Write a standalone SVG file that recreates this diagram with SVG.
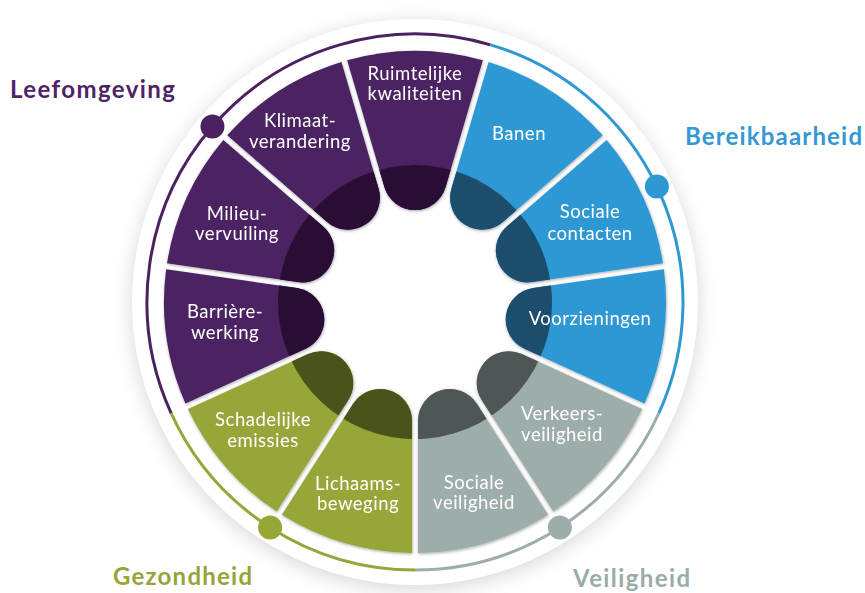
<svg xmlns="http://www.w3.org/2000/svg" xmlns:xlink="http://www.w3.org/1999/xlink" width="865" height="593" viewBox="0 0 865 593">
<style>
.lbl{font-family:Lato,"Open Sans","Liberation Sans",sans-serif;font-size:18.5px;font-weight:400;fill:#ffffff;text-anchor:middle;letter-spacing:0.5px}
.cat{font-family:Lato,"Open Sans","Liberation Sans",sans-serif;font-size:24px;font-weight:700}
.pur{fill:#4b2162}.purd{fill:#2a1036}
.blu{fill:#2f98d4}.blud{fill:#1a4d6c}
.gry{fill:#9dadab}.gryd{fill:#4f5756}
.olv{fill:#98a537}.olvd{fill:#4b531b}
.ring{fill:none;stroke-width:3}
</style>
<defs>
<path id="seg" d="M 30.6,-114.9 L 67.83,-241.66 A 251 251 0 0 0 -67.83,-241.66 L -30.6,-114.9 A 31.9 31.9 0 0 0 30.6,-114.9 Z"/>
<clipPath id="inner" clipPathUnits="userSpaceOnUse"><circle cx="0" cy="0" r="137"/></clipPath>
<filter id="discShadow" x="-20%" y="-20%" width="140%" height="140%">
<feGaussianBlur stdDeviation="10"/>
</filter>
<filter id="segShadow" x="-10%" y="-10%" width="120%" height="120%">
<feDropShadow dx="0.5" dy="1" stdDeviation="1.5" flood-color="#000" flood-opacity="0.35"/>
</filter>
</defs>
<rect width="865" height="593" fill="#ffffff"/>
<g id="disc">
<circle cx="415" cy="306" r="283" fill="#000" opacity="0.16" filter="url(#discShadow)"/>
<circle cx="415" cy="302" r="283" fill="#ffffff"/>
</g>
<g id="connectors">
<path class="ring" stroke="#4b2162" d="M 171.22 413.33 A 268 268 0 0 1 490.50 44.86"/>
<path class="ring" stroke="#2f98d4" d="M 490.50 44.86 A 268 268 0 0 1 658.78 413.33"/>
<path class="ring" stroke="#9dadab" d="M 658.78 413.33 A 268 268 0 0 1 415 570"/>
<path class="ring" stroke="#98a537" d="M 415 570 A 268 268 0 0 1 171.22 413.33"/>
<circle cx="212.46" cy="126.5" r="12" fill="#4b2162"/>
<circle cx="656.9" cy="186.6" r="12" fill="#2f98d4"/>
<circle cx="559.9" cy="527.5" r="12" fill="#9dadab"/>
<circle cx="270.1" cy="527.5" r="12" fill="#98a537"/>
</g>
<g id="segments" filter="url(#segShadow)">
<g id="node-ruimtelijke">
<g transform="translate(415,302) rotate(0)"><use xlink:href="#seg" class="pur"/><use xlink:href="#seg" class="purd" clip-path="url(#inner)"/></g>
<text class="lbl" x="415" y="80">Ruimtelijke</text><text class="lbl" x="415" y="100">kwaliteiten</text>
</g>
<g id="node-banen">
<g transform="translate(415,302) rotate(32.727)"><use xlink:href="#seg" class="blu"/><use xlink:href="#seg" class="blud" clip-path="url(#inner)"/></g>
<text class="lbl" x="519" y="140">Banen</text>
</g>
<g id="node-sociale-contacten">
<g transform="translate(415,302) rotate(65.455)"><use xlink:href="#seg" class="blu"/><use xlink:href="#seg" class="blud" clip-path="url(#inner)"/></g>
<text class="lbl" x="590" y="218">Sociale</text><text class="lbl" x="590" y="240">contacten</text>
</g>
<g id="node-voorzieningen">
<g transform="translate(415,302) rotate(98.182)"><use xlink:href="#seg" class="blu"/><use xlink:href="#seg" class="blud" clip-path="url(#inner)"/></g>
<text class="lbl" x="590" y="325">Voorzieningen</text>
</g>
<g id="node-verkeersveiligheid">
<g transform="translate(415,302) rotate(130.909)"><use xlink:href="#seg" class="gry"/><use xlink:href="#seg" class="gryd" clip-path="url(#inner)"/></g>
<text class="lbl" x="562" y="420">Verkeers-</text><text class="lbl" x="562" y="441">veiligheid</text>
</g>
<g id="node-sociale-veiligheid">
<g transform="translate(415,302) rotate(163.636)"><use xlink:href="#seg" class="gry"/><use xlink:href="#seg" class="gryd" clip-path="url(#inner)"/></g>
<text class="lbl" x="474" y="489">Sociale</text><text class="lbl" x="474" y="509">veiligheid</text>
</g>
<g id="node-lichaamsbeweging">
<g transform="translate(415,302) rotate(196.364)"><use xlink:href="#seg" class="olv"/><use xlink:href="#seg" class="olvd" clip-path="url(#inner)"/></g>
<text class="lbl" x="358" y="490">Lichaams-</text><text class="lbl" x="358" y="510">beweging</text>
</g>
<g id="node-schadelijke-emissies">
<g transform="translate(415,302) rotate(229.091)"><use xlink:href="#seg" class="olv"/><use xlink:href="#seg" class="olvd" clip-path="url(#inner)"/></g>
<text class="lbl" x="263" y="426">Schadelijke</text><text class="lbl" x="263" y="447">emissies</text>
</g>
<g id="node-barrierewerking">
<g transform="translate(415,302) rotate(261.818)"><use xlink:href="#seg" class="pur"/><use xlink:href="#seg" class="purd" clip-path="url(#inner)"/></g>
<text class="lbl" x="225" y="318">Barrière-</text><text class="lbl" x="225" y="339">werking</text>
</g>
<g id="node-milieuvervuiling">
<g transform="translate(415,302) rotate(294.545)"><use xlink:href="#seg" class="pur"/><use xlink:href="#seg" class="purd" clip-path="url(#inner)"/></g>
<text class="lbl" x="237" y="220">Milieu-</text><text class="lbl" x="237" y="240">vervuiling</text>
</g>
<g id="node-klimaatverandering">
<g transform="translate(415,302) rotate(327.273)"><use xlink:href="#seg" class="pur"/><use xlink:href="#seg" class="purd" clip-path="url(#inner)"/></g>
<text class="lbl" x="300" y="127">Klimaat-</text><text class="lbl" x="300" y="148">verandering</text>
</g>
</g>
<g id="categories">
<text id="cat-leefomgeving" class="cat" x="10" y="98" fill="#4f2366" textLength="165" lengthAdjust="spacing">Leefomgeving</text>
<text id="cat-bereikbaarheid" class="cat" x="685" y="145" fill="#3498d3" textLength="177" lengthAdjust="spacing">Bereikbaarheid</text>
<text id="cat-gezondheid" class="cat" x="113" y="585" fill="#97a43a" textLength="139" lengthAdjust="spacing">Gezondheid</text>
<text id="cat-veiligheid" class="cat" x="573" y="587" fill="#9aaba9" textLength="117" lengthAdjust="spacing">Veiligheid</text>
</g>
</svg>
